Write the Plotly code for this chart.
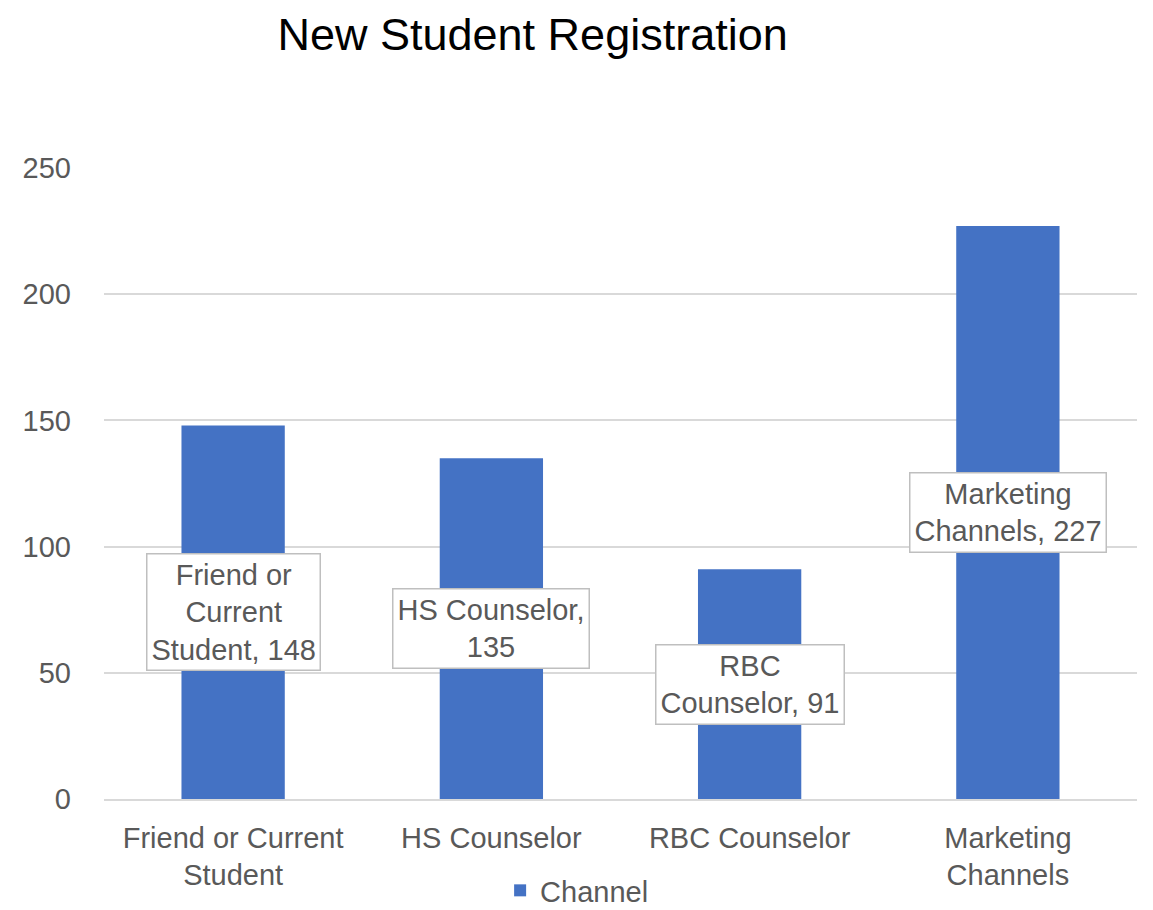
import plotly.graph_objects as go

categories = ["Friend or Current Student", "HS Counselor", "RBC Counselor", "Marketing Channels"]
tick_text = ["Friend or Current<br>Student", "HS Counselor", "RBC Counselor", "Marketing<br>Channels"]
label_text = ["Friend or<br>Current<br>Student, ", "HS Counselor,<br>", "RBC<br>Counselor, ", "Marketing<br>Channels, "]
values = [148, 135, 91, 227]

FONT = "Liberation Sans, Arial, sans-serif"
GREY = "#595959"

fig = go.Figure(go.Bar(
    x=categories,
    y=values,
    name="Channel",
    marker={"color": "#4472c4", "line": {"width": 0}},
    showlegend=True,
))

# data labels sit at the middle of each bar
annotations = []
for cat, val, txt in zip(categories, values, label_text):
    annotations.append({
        "x": cat, "y": val / 2, "xref": "x", "yref": "y",
        "text": f"{txt}{val}", "showarrow": False,
        "font": {"size": 29, "color": GREY, "family": FONT},
        "bgcolor": "white", "bordercolor": "#bfbfbf", "borderwidth": 1.5,
        "borderpad": 4,
    })

fig.update_layout(
    width=1153, height=910,
    paper_bgcolor="white", plot_bgcolor="white",
    margin={"l": 96, "r": 24, "t": 160, "b": 119, "autoexpand": False},
    font={"family": FONT, "color": GREY, "size": 29},
    title={"text": "New Student Registration", "x": 0.455, "xanchor": "center",
           "y": 0.971, "yanchor": "middle",
           "font": {"size": 45, "color": "black", "family": FONT}},
    bargap=0.6,
    xaxis={"tickvals": categories, "ticktext": tick_text, "showline": True,
           "linecolor": "#d9d9d9", "linewidth": 1.5, "ticks": "",
           "ticklabelstandoff": 12,
           "tickfont": {"size": 29, "color": GREY}},
    yaxis={"range": [0, 250], "dtick": 50, "gridcolor": "#d9d9d9", "gridwidth": 1.5,
           "zeroline": False, "ticks": "", "ticklabelstandoff": 32,
           "tickfont": {"size": 29, "color": GREY}},
    legend={"orientation": "h", "x": 0.458, "xanchor": "center", "y": -0.145,
            "yanchor": "middle", "font": {"size": 29, "color": GREY}},
    annotations=annotations,
)

fig.write_html("out.html")
